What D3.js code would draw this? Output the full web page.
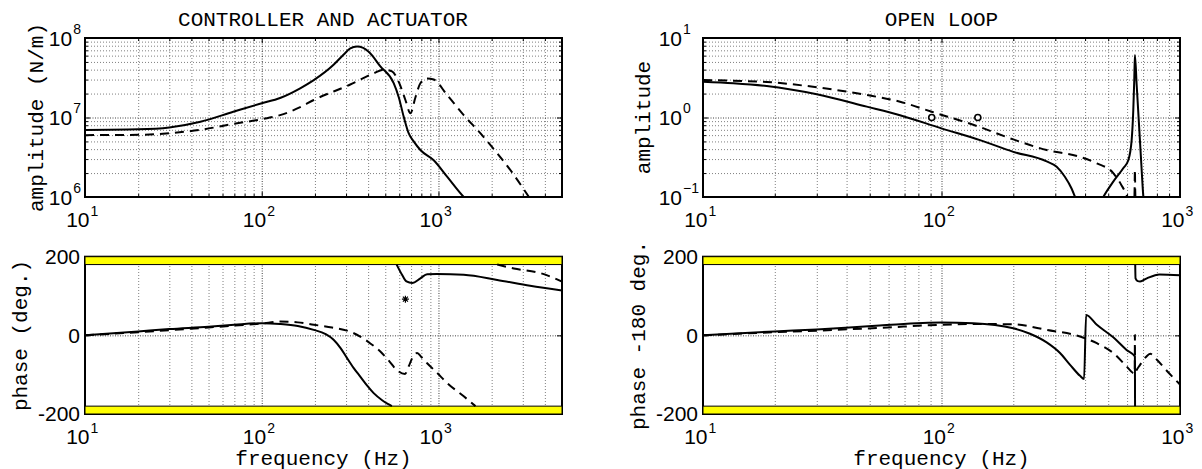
<!DOCTYPE html>
<html>
<head>
<meta charset="utf-8">
<script src="https://cdn.jsdelivr.net/npm/d3@7"></script>
<style>
body { margin: 0; background: #fff; }
.mono { font-family: "Liberation Mono", "Courier New", monospace; font-size: 21px; fill: #000; }
.tl text { font-family: "Liberation Sans", Arial, sans-serif; font-size: 21px; fill: #000; }
.tl text.sup { font-size: 14px; }
.grid line { stroke: #000; stroke-opacity: .5; stroke-dasharray: 1 2; }
.grid line.gmaj { stroke-opacity: .75; stroke-dasharray: 1 1.5; }
.tk line { stroke: #000; stroke-width: 1; }
.box { fill: none; stroke: #000; stroke-width: 2; }
.band { fill: #ffff00; stroke: #000; stroke-width: 1; }
.ln { fill: none; stroke: #000; stroke-width: 2; }
.dash { stroke-dasharray: 9 6; }
</style>
</head>
<body>
<script>
// controller and actuator, amplitude (N/m)
var caAmpSolidF = [10, 20, 30, 45, 69, 100, 127, 165, 197, 255, 291, 317, 346, 375, 403, 469, 558, 596, 636, 679, 724, 790, 940, 1119, 1390, 1600];
var caAmpSolidV = [6.97e6, 7.1e6, 7.5e6, 8.85e6, 1.18e7, 1.51e7, 1.76e7, 2.33e7, 2.95e7, 4.6e7, 6.2e7, 7.4e7, 7.8e7, 7.5e7, 6.7e7, 4.4e7, 2.7e7, 1.8e7, 1.02e7, 6.3e6, 5.0e6, 3.9e6, 2.9e6, 1.8e6, 1.0e6, 7.5e5];
var caAmpDashF = [10, 20, 30, 45, 69, 107, 127, 165, 197, 317, 430, 490, 546, 596, 650, 694, 741, 790, 863, 940, 1119, 1390, 1730, 2150, 2670, 3250, 3700];
var caAmpDashV = [6.0e6, 6.05e6, 6.35e6, 7.0e6, 8.3e6, 9.8e6, 1.07e7, 1.35e7, 1.66e7, 2.6e7, 3.6e7, 4.0e7, 3.8e7, 2.8e7, 1.66e7, 1.13e7, 1.8e7, 2.7e7, 3.1e7, 3.0e7, 1.92e7, 1.07e7, 6.3e6, 3.55e6, 1.9e6, 1.0e6, 6.5e5];

// controller and actuator, phase (deg.)  -- null = wrap
var caPhSolidF = [10, 20, 30, 50, 70, 100, 127, 160, 197, 230, 255, 280, 304, 330, 361, 395, 430, 480, 520, 545, 545, 580, 622, 659, 710, 790, 863, 982, 1390, 2150, 3300, 5000];
var caPhSolidV = [0, 10, 16, 22, 27, 31, 29, 24, 14, 3, -11, -33, -58, -82, -105, -128, -147, -165, -175, -180, null, 180, 154, 137, 133, 145, 155.5, 156, 154, 141, 126, 114, 107];
var caPhDashF = [10, 20, 30, 50, 70, 100, 127, 160, 197, 250, 304, 361, 410, 469, 525, 580, 647, 680, 710, 757, 800, 863, 980, 1119, 1390, 1620, 1620, 2150, 2670, 3790, 5000];
var caPhDashV = [0, 8, 13, 20, 25, 30, 35, 33, 27, 20, 12, -3, -20, -41, -65, -88, -98, -78, -58, -45, -55, -71, -95, -121, -155, -180, null, 180, 170, 158, 137, 124];
var caStarF = [650];
var caStarV = [92];

// open loop, amplitude
var olAmpSolidF = [10, 13.4, 18.5, 30, 48.6, 67, 100, 145, 200, 276, 304, 329, 351, 363, 380, 450, 477, 525, 578, 607, 627, 637, 643, 647, 658, 675, 690, 702, 720];
var olAmpSolidV = [2.82, 2.7, 2.49, 1.96, 1.37, 1.07, 0.73, 0.52, 0.37, 0.28, 0.24, 0.18, 0.128, 0.1, 0.07, 0.07, 0.1, 0.156, 0.23, 0.29, 0.52, 1.24, 2.96, 6.1, 2.6, 0.71, 0.23, 0.1, 0.06];
var olAmpDashF = [10, 13.4, 18.5, 30, 48.6, 67, 91, 141, 200, 276, 381, 448, 525, 569, 597, 615, 640, 645, 647, 649, 655, 700];
var olAmpDashV = [2.96, 2.9, 2.8, 2.4, 1.92, 1.58, 1.18, 0.78, 0.53, 0.39, 0.32, 0.265, 0.2, 0.14, 0.106, 0.08, 0.07, 0.12, 0.22, 0.12, 0.07, 0.05];
var olCircF = [91, 142];
var olCircV = [1, 1];

// open loop, phase -180 deg.
var olPhSolidF = [10, 20, 30, 55, 100, 136, 200, 235, 276, 314, 346, 381, 396, 404, 448, 525, 597, 647, 648, 648, 649, 651, 665, 680, 726, 820, 1000];
var olPhSolidV = [0, 10, 15, 25, 32.5, 31, 18, 4, -18, -45, -75, -103, -111, 52, 27, -5, -37, -54, -180, null, 180, 145, 138, 137, 145, 155, 153];
var olPhDashF = [10, 20, 30, 55, 100, 145, 200, 276, 381, 448, 525, 597, 637, 646, 647, 648, 652, 680, 720, 750, 800, 880, 1000];
var olPhDashV = [0, 8, 12, 19, 27, 29, 28, 14, -3, -20, -45, -79, -96, -97, 0, -97, -93, -75, -55, -47, -62, -90, -125];

var phaseTicks = [-200, 0, 200];

var svg = d3.select("body").append("svg").attr("width", 1202).attr("height", 469);

var rowTop = {y0: 38, y1: 197}, rowBot = {y0: 256.7, y1: 414};
var colL = {x0: 85, x1: 562}, colR = {x0: 703, x1: 1180};
var clipN = 0;

function isDec(d) { var l = Math.log10(d); return Math.abs(l - Math.round(l)) < 1e-6; }
function noDomain(s) { s.select(".domain").remove(); }

function panel(col, row, xDom, y, yGrid, yMaj, yMin, bands) {
  var x = d3.scaleLog().domain(xDom).range([col.x0, col.x1]);
  y.range([row.y1, row.y0]);
  var w = col.x1 - col.x0, h = row.y1 - row.y0;
  var g = svg.append("g");
  var xt = x.ticks();

  // grid
  g.append("g").attr("class", "grid").attr("transform", "translate(0," + row.y1 + ")")
    .call(d3.axisBottom(x).tickValues(xt).tickSize(-h).tickFormat(""))
    .call(noDomain)
    .selectAll(".tick line").classed("gmaj", isDec);
  g.append("g").attr("class", "grid").attr("transform", "translate(" + col.x0 + ",0)")
    .call(d3.axisLeft(y).tickValues(yGrid).tickSize(-w).tickFormat(""))
    .call(noDomain)
    .selectAll(".tick line").classed("gmaj", function(d) { return yMaj.indexOf(d) >= 0; });

  // inward ticks on all sides
  var xMaj = xt.filter(isDec), xMin = xt.filter(function(d) { return !isDec(d); });
  [[xMaj, 5], [xMin, 3]].forEach(function(t) {
    g.append("g").attr("class", "tk").attr("transform", "translate(0," + row.y1 + ")")
      .call(d3.axisBottom(x).tickValues(t[0]).tickSize(-t[1]).tickFormat("")).call(noDomain);
    g.append("g").attr("class", "tk").attr("transform", "translate(0," + row.y0 + ")")
      .call(d3.axisTop(x).tickValues(t[0]).tickSize(-t[1]).tickFormat("")).call(noDomain);
  });
  [[yMaj, 5], [yMin, 3]].forEach(function(t) {
    g.append("g").attr("class", "tk").attr("transform", "translate(" + col.x0 + ",0)")
      .call(d3.axisLeft(y).tickValues(t[0]).tickSize(-t[1]).tickFormat("")).call(noDomain);
    g.append("g").attr("class", "tk").attr("transform", "translate(" + col.x1 + ",0)")
      .call(d3.axisRight(y).tickValues(t[0]).tickSize(-t[1]).tickFormat("")).call(noDomain);
  });

  g.append("rect").attr("class", "box").attr("x", col.x0).attr("y", row.y0).attr("width", w).attr("height", h);

  if (bands) {
    bands.forEach(function(b) {
      g.append("rect").attr("class", "band")
        .attr("x", col.x0).attr("width", w)
        .attr("y", y(Math.max(b[0], b[1]))).attr("height", Math.abs(y(b[0]) - y(b[1])));
    });
  }

  var id = "clip" + (clipN++);
  svg.append("clipPath").attr("id", id).append("rect")
    .attr("x", col.x0).attr("y", row.y0).attr("width", w).attr("height", h);
  var plot = svg.append("g").attr("clip-path", "url(#" + id + ")");

  // x tick labels 10^n
  var tl = svg.append("g").attr("class", "tl");
  tl.selectAll(".xb").data(xMaj).enter().append("text")
    .attr("x", function(d) { return x(d) + 4.5; }).attr("y", row.y1 + 30)
    .attr("text-anchor", "end").text("10");
  tl.selectAll(".xs").data(xMaj).enter().append("text").attr("class", "sup")
    .attr("x", function(d) { return x(d) + 5.5; }).attr("y", row.y1 + 19)
    .text(function(d) { return Math.round(Math.log10(d)); });

  return {x: x, y: y, col: col, row: row, plot: plot, tl: tl};
}

function logYLabels(p, vals) {
  var sup = p.tl.selectAll(".ys").data(vals).enter().append("text").attr("class", "sup")
    .attr("y", function(d) { return p.y(d) - 4.5; })
    .text(function(d) { var e = Math.round(Math.log10(d)); return e < 0 ? "\u2212" + (-e) : e; });
  var mw = d3.max(sup.nodes(), function(n) { return n.getComputedTextLength(); });
  var end = p.col.x0 - 5 - mw;
  sup.attr("x", end + 1);
  p.tl.selectAll(".yb").data(vals).enter().append("text")
    .attr("x", end).attr("y", function(d) { return p.y(d) + 7.5; })
    .attr("text-anchor", "end").text("10");
}

function linYLabels(p, vals) {
  p.tl.selectAll(".yl").data(vals).enter().append("text")
    .attr("x", p.col.x0 - 5).attr("y", p.y).attr("dy", "0.35em")
    .attr("text-anchor", "end").text(function(d) { return d; });
}

function curve(p, F, V, dashed) {
  var line = d3.line()
    .defined(function(d) { return d[1] != null; })
    .x(function(d) { return p.x(d[0]); })
    .y(function(d) { return p.y(d[1]); })
    .curve(d3.curveMonotoneX);
  p.plot.append("path").datum(d3.zip(F, V)).attr("class", dashed ? "ln dash" : "ln").attr("d", line);
}

function vlabel(txt, x, y) {
  svg.append("text").attr("class", "mono").attr("text-anchor", "middle")
    .attr("transform", "translate(" + x + "," + y + ") rotate(-90)").text(txt);
}
function hlabel(txt, x, y) {
  svg.append("text").attr("class", "mono").attr("text-anchor", "middle")
    .attr("x", x).attr("y", y).text(txt);
}

// ---- top left
var yA = d3.scaleLog().domain([1e6, 1e8]);
var yAt = yA.ticks();
var pA = panel(colL, rowTop, [10, 5000], yA, yAt, yAt.filter(isDec), yAt.filter(function(d) { return !isDec(d); }));
logYLabels(pA, yAt.filter(isDec));
curve(pA, caAmpSolidF, caAmpSolidV, false);
curve(pA, caAmpDashF, caAmpDashV, true);

// ---- top right
var yB = d3.scaleLog().domain([0.1, 10]);
var yBt = yB.ticks();
var pB = panel(colR, rowTop, [10, 1000], yB, yBt, yBt.filter(isDec), yBt.filter(function(d) { return !isDec(d); }));
logYLabels(pB, yBt.filter(isDec));
curve(pB, olAmpSolidF, olAmpSolidV, false);
curve(pB, olAmpDashF, olAmpDashV, true);
pB.plot.selectAll("circle").data(d3.zip(olCircF, olCircV)).enter().append("circle")
  .attr("cx", function(d) { return pB.x(d[0]); }).attr("cy", function(d) { return pB.y(d[1]); })
  .attr("r", 3).attr("fill", "#fff").attr("stroke", "#000").attr("stroke-width", 1.6);

// ---- bottom left
var bands = [[180, 200], [-200, -180]];
var yC = d3.scaleLinear().domain([-200, 200]);
var pC = panel(colL, rowBot, [10, 5000], yC, phaseTicks, phaseTicks, [], bands);
linYLabels(pC, phaseTicks);
curve(pC, caPhSolidF, caPhSolidV, false);
curve(pC, caPhDashF, caPhDashV, true);
pC.plot.selectAll(".star").data(d3.zip(caStarF, caStarV)).enter().append("path")
  .attr("transform", function(d) { return "translate(" + pC.x(d[0]) + "," + pC.y(d[1]) + ")"; })
  .attr("d", "M-3.5,0H3.5M0,-3.5V3.5M-2.5,-2.5L2.5,2.5M-2.5,2.5L2.5,-2.5")
  .attr("stroke", "#000").attr("stroke-width", 1.2).attr("fill", "none");

// ---- bottom right
var yD = d3.scaleLinear().domain([-200, 200]);
var pD = panel(colR, rowBot, [10, 1000], yD, phaseTicks, phaseTicks, [], bands);
linYLabels(pD, phaseTicks);
curve(pD, olPhSolidF, olPhSolidV, false);
curve(pD, olPhDashF, olPhDashV, true);

// ---- titles and axis labels
hlabel("CONTROLLER AND ACTUATOR", 323, 26);
hlabel("OPEN LOOP", 941.5, 26);
vlabel("amplitude (N/m)", 42.5, 117.5);
vlabel("phase (deg.)", 27, 335.5);
vlabel("amplitude", 650, 117.5);
vlabel("phase -180 deg.", 645, 335.5);
hlabel("frequency (Hz)", 323.5, 464.5);
hlabel("frequency (Hz)", 941.5, 464.5);
</script>
</body>
</html>
